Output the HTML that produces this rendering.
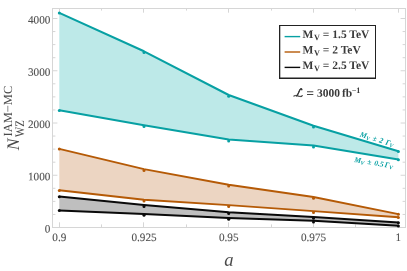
<!DOCTYPE html>
<html><head><meta charset="utf-8"><title>plot</title>
<style>
html,body{margin:0;padding:0;background:#fff;}
body{width:407px;height:271px;overflow:hidden;font-family:"Liberation Serif",serif;}
svg{will-change:transform;display:block;position:absolute;left:0;top:0;}
text{text-rendering:geometricPrecision;font-family:"Liberation Serif",serif;}
.tk{font-size:11.2px;fill:#505050;stroke:#505050;stroke-width:0.1px;}
.lg{font-size:11.5px;font-weight:bold;fill:#3a3a3a;}
.an{font-size:7.6px;font-weight:bold;font-style:italic;fill:#07a0a3;}
</style></head><body>
<svg width="407" height="271" viewBox="0 0 407 271">
<rect x="0" y="0" width="407" height="271" fill="#fff"/>
<rect x="52.5" y="8.5" width="353.0" height="219.0" fill="none" stroke="#d6d6d6" stroke-width="1"/>
<line x1="52.5" x2="57.4" y1="227.50" y2="227.50" stroke="#d6d6d6" stroke-width="1"/>
<line x1="405.5" x2="400.6" y1="227.50" y2="227.50" stroke="#d6d6d6" stroke-width="1"/>
<line x1="52.5" x2="55.4" y1="214.44" y2="214.44" stroke="#d6d6d6" stroke-width="1"/>
<line x1="405.5" x2="402.6" y1="214.44" y2="214.44" stroke="#d6d6d6" stroke-width="1"/>
<line x1="52.5" x2="55.4" y1="201.38" y2="201.38" stroke="#d6d6d6" stroke-width="1"/>
<line x1="405.5" x2="402.6" y1="201.38" y2="201.38" stroke="#d6d6d6" stroke-width="1"/>
<line x1="52.5" x2="55.4" y1="188.31" y2="188.31" stroke="#d6d6d6" stroke-width="1"/>
<line x1="405.5" x2="402.6" y1="188.31" y2="188.31" stroke="#d6d6d6" stroke-width="1"/>
<line x1="52.5" x2="57.4" y1="175.25" y2="175.25" stroke="#d6d6d6" stroke-width="1"/>
<line x1="405.5" x2="400.6" y1="175.25" y2="175.25" stroke="#d6d6d6" stroke-width="1"/>
<line x1="52.5" x2="55.4" y1="162.19" y2="162.19" stroke="#d6d6d6" stroke-width="1"/>
<line x1="405.5" x2="402.6" y1="162.19" y2="162.19" stroke="#d6d6d6" stroke-width="1"/>
<line x1="52.5" x2="55.4" y1="149.12" y2="149.12" stroke="#d6d6d6" stroke-width="1"/>
<line x1="405.5" x2="402.6" y1="149.12" y2="149.12" stroke="#d6d6d6" stroke-width="1"/>
<line x1="52.5" x2="55.4" y1="136.06" y2="136.06" stroke="#d6d6d6" stroke-width="1"/>
<line x1="405.5" x2="402.6" y1="136.06" y2="136.06" stroke="#d6d6d6" stroke-width="1"/>
<line x1="52.5" x2="57.4" y1="123.00" y2="123.00" stroke="#d6d6d6" stroke-width="1"/>
<line x1="405.5" x2="400.6" y1="123.00" y2="123.00" stroke="#d6d6d6" stroke-width="1"/>
<line x1="52.5" x2="55.4" y1="109.94" y2="109.94" stroke="#d6d6d6" stroke-width="1"/>
<line x1="405.5" x2="402.6" y1="109.94" y2="109.94" stroke="#d6d6d6" stroke-width="1"/>
<line x1="52.5" x2="55.4" y1="96.88" y2="96.88" stroke="#d6d6d6" stroke-width="1"/>
<line x1="405.5" x2="402.6" y1="96.88" y2="96.88" stroke="#d6d6d6" stroke-width="1"/>
<line x1="52.5" x2="55.4" y1="83.81" y2="83.81" stroke="#d6d6d6" stroke-width="1"/>
<line x1="405.5" x2="402.6" y1="83.81" y2="83.81" stroke="#d6d6d6" stroke-width="1"/>
<line x1="52.5" x2="57.4" y1="70.75" y2="70.75" stroke="#d6d6d6" stroke-width="1"/>
<line x1="405.5" x2="400.6" y1="70.75" y2="70.75" stroke="#d6d6d6" stroke-width="1"/>
<line x1="52.5" x2="55.4" y1="57.69" y2="57.69" stroke="#d6d6d6" stroke-width="1"/>
<line x1="405.5" x2="402.6" y1="57.69" y2="57.69" stroke="#d6d6d6" stroke-width="1"/>
<line x1="52.5" x2="55.4" y1="44.62" y2="44.62" stroke="#d6d6d6" stroke-width="1"/>
<line x1="405.5" x2="402.6" y1="44.62" y2="44.62" stroke="#d6d6d6" stroke-width="1"/>
<line x1="52.5" x2="55.4" y1="31.56" y2="31.56" stroke="#d6d6d6" stroke-width="1"/>
<line x1="405.5" x2="402.6" y1="31.56" y2="31.56" stroke="#d6d6d6" stroke-width="1"/>
<line x1="52.5" x2="57.4" y1="18.50" y2="18.50" stroke="#d6d6d6" stroke-width="1"/>
<line x1="405.5" x2="400.6" y1="18.50" y2="18.50" stroke="#d6d6d6" stroke-width="1"/>
<line x1="59.50" x2="59.50" y1="227.5" y2="222.3" stroke="#d6d6d6" stroke-width="1"/>
<line x1="59.50" x2="59.50" y1="8.5" y2="12.7" stroke="#d6d6d6" stroke-width="1"/>
<line x1="101.50" x2="101.50" y1="227.5" y2="224.4" stroke="#d6d6d6" stroke-width="1"/>
<line x1="101.50" x2="101.50" y1="8.5" y2="10.6" stroke="#d6d6d6" stroke-width="1"/>
<line x1="143.50" x2="143.50" y1="227.5" y2="222.3" stroke="#d6d6d6" stroke-width="1"/>
<line x1="143.50" x2="143.50" y1="8.5" y2="12.7" stroke="#d6d6d6" stroke-width="1"/>
<line x1="186.50" x2="186.50" y1="227.5" y2="224.4" stroke="#d6d6d6" stroke-width="1"/>
<line x1="186.50" x2="186.50" y1="8.5" y2="10.6" stroke="#d6d6d6" stroke-width="1"/>
<line x1="228.50" x2="228.50" y1="227.5" y2="222.3" stroke="#d6d6d6" stroke-width="1"/>
<line x1="228.50" x2="228.50" y1="8.5" y2="12.7" stroke="#d6d6d6" stroke-width="1"/>
<line x1="271.50" x2="271.50" y1="227.5" y2="224.4" stroke="#d6d6d6" stroke-width="1"/>
<line x1="271.50" x2="271.50" y1="8.5" y2="10.6" stroke="#d6d6d6" stroke-width="1"/>
<line x1="313.50" x2="313.50" y1="227.5" y2="222.3" stroke="#d6d6d6" stroke-width="1"/>
<line x1="313.50" x2="313.50" y1="8.5" y2="12.7" stroke="#d6d6d6" stroke-width="1"/>
<line x1="355.50" x2="355.50" y1="227.5" y2="224.4" stroke="#d6d6d6" stroke-width="1"/>
<line x1="355.50" x2="355.50" y1="8.5" y2="10.6" stroke="#d6d6d6" stroke-width="1"/>
<line x1="398.50" x2="398.50" y1="227.5" y2="222.3" stroke="#d6d6d6" stroke-width="1"/>
<line x1="398.50" x2="398.50" y1="8.5" y2="12.7" stroke="#d6d6d6" stroke-width="1"/>
<polygon points="59.3,12.9 144.0,51.3 228.7,95.0 313.5,125.7 398.4,151.3 398.4,159.5 313.5,145.6 228.7,139.6 144.0,125.3 59.3,110.3" fill="#bde9e8"/>
<polygon points="59.3,148.8 144.0,169.1 228.7,184.7 313.5,197.0 398.4,214.1 398.4,217.3 313.5,211.1 228.7,205.1 144.0,199.8 59.3,190.3" fill="#ecd5c2"/>
<polygon points="59.3,196.6 144.0,205.1 228.7,212.2 313.5,217.0 398.4,222.6 398.4,225.8 313.5,220.7 228.7,218.0 144.0,213.9 59.3,210.4" fill="#bfbfbf"/>
<polyline points="59.3,12.9 144.0,51.3 228.7,95.0 313.5,125.7 398.4,151.3" fill="none" stroke="#07a0a3" stroke-width="2.05" stroke-linejoin="round" stroke-linecap="butt"/>
<circle cx="59.3" cy="13.10" r="1.5" fill="#07a0a3"/>
<circle cx="144.0" cy="52.60" r="1.5" fill="#07a0a3"/>
<circle cx="228.7" cy="96.30" r="1.5" fill="#07a0a3"/>
<circle cx="313.5" cy="127.00" r="1.5" fill="#07a0a3"/>
<circle cx="398.4" cy="151.50" r="1.5" fill="#07a0a3"/>
<polyline points="59.3,110.3 144.0,125.3 228.7,139.6 313.5,145.6 398.4,159.5" fill="none" stroke="#07a0a3" stroke-width="2.05" stroke-linejoin="round" stroke-linecap="butt"/>
<circle cx="59.3" cy="110.50" r="1.5" fill="#07a0a3"/>
<circle cx="144.0" cy="126.60" r="1.5" fill="#07a0a3"/>
<circle cx="228.7" cy="140.90" r="1.5" fill="#07a0a3"/>
<circle cx="313.5" cy="146.90" r="1.5" fill="#07a0a3"/>
<circle cx="398.4" cy="159.70" r="1.5" fill="#07a0a3"/>
<polyline points="59.3,148.8 144.0,169.1 228.7,184.7 313.5,197.0 398.4,214.1" fill="none" stroke="#b55a06" stroke-width="1.9" stroke-linejoin="round" stroke-linecap="butt"/>
<circle cx="59.3" cy="149.00" r="1.5" fill="#b55a06"/>
<circle cx="144.0" cy="170.40" r="1.5" fill="#b55a06"/>
<circle cx="228.7" cy="186.00" r="1.5" fill="#b55a06"/>
<circle cx="313.5" cy="198.30" r="1.5" fill="#b55a06"/>
<circle cx="398.4" cy="214.30" r="1.5" fill="#b55a06"/>
<polyline points="59.3,190.3 144.0,199.8 228.7,205.1 313.5,211.1 398.4,217.3" fill="none" stroke="#b55a06" stroke-width="1.9" stroke-linejoin="round" stroke-linecap="butt"/>
<circle cx="59.3" cy="190.50" r="1.5" fill="#b55a06"/>
<circle cx="144.0" cy="201.10" r="1.5" fill="#b55a06"/>
<circle cx="228.7" cy="206.40" r="1.5" fill="#b55a06"/>
<circle cx="313.5" cy="212.40" r="1.5" fill="#b55a06"/>
<circle cx="398.4" cy="217.50" r="1.5" fill="#b55a06"/>
<polyline points="59.3,196.6 144.0,205.1 228.7,212.2 313.5,217.0 398.4,222.6" fill="none" stroke="#0a0a0a" stroke-width="2.05" stroke-linejoin="round" stroke-linecap="butt"/>
<circle cx="59.3" cy="196.80" r="1.5" fill="#0a0a0a"/>
<circle cx="144.0" cy="206.40" r="1.5" fill="#0a0a0a"/>
<circle cx="228.7" cy="213.50" r="1.5" fill="#0a0a0a"/>
<circle cx="313.5" cy="218.30" r="1.5" fill="#0a0a0a"/>
<circle cx="398.4" cy="222.80" r="1.5" fill="#0a0a0a"/>
<polyline points="59.3,210.4 144.0,213.9 228.7,218.0 313.5,220.7 398.4,225.8" fill="none" stroke="#0a0a0a" stroke-width="2.05" stroke-linejoin="round" stroke-linecap="butt"/>
<circle cx="59.3" cy="210.60" r="1.5" fill="#0a0a0a"/>
<circle cx="144.0" cy="215.20" r="1.5" fill="#0a0a0a"/>
<circle cx="228.7" cy="219.30" r="1.5" fill="#0a0a0a"/>
<circle cx="313.5" cy="222.00" r="1.5" fill="#0a0a0a"/>
<circle cx="398.4" cy="226.00" r="1.5" fill="#0a0a0a"/>
<text class="tk" transform="rotate(0.03 50 232.40)" x="50.4" y="232.40" text-anchor="end">0</text>
<text class="tk" transform="rotate(0.03 50 180.15)" x="50.4" y="180.15" text-anchor="end">1000</text>
<text class="tk" transform="rotate(0.03 50 127.90)" x="50.4" y="127.90" text-anchor="end">2000</text>
<text class="tk" transform="rotate(0.03 50 75.65)" x="50.4" y="75.65" text-anchor="end">3000</text>
<text class="tk" transform="rotate(0.03 50 23.40)" x="50.4" y="23.40" text-anchor="end">4000</text>
<text class="tk" transform="rotate(0.03 59.3 240.9)" x="59.3" y="240.9" text-anchor="middle">0.9</text>
<text class="tk" transform="rotate(0.03 144.0 240.9)" x="144.0" y="240.9" text-anchor="middle">0.925</text>
<text class="tk" transform="rotate(0.03 228.7 240.9)" x="228.7" y="240.9" text-anchor="middle">0.95</text>
<text class="tk" transform="rotate(0.03 313.5 240.9)" x="313.5" y="240.9" text-anchor="middle">0.975</text>
<text class="tk" transform="rotate(0.03 398.4 240.9)" x="398.4" y="240.9" text-anchor="middle">1</text>
<text transform="rotate(0.03 228.9 265.8)" x="228.9" y="265.8" text-anchor="middle" font-size="18.6" font-style="italic" fill="#4a4a4a">a</text>
<g transform="translate(18.8,150.3) rotate(-90)" fill="#4a4a4a"><text x="0" y="0" font-size="17.6" font-style="italic">N</text><text x="13.9" y="-6.9" font-size="12.4" textLength="50.6" lengthAdjust="spacingAndGlyphs">IAM−MC</text><text x="13.3" y="5.6" font-size="13" textLength="16.8" lengthAdjust="spacingAndGlyphs">WZ</text></g>
<rect x="279" y="25" width="97" height="54" fill="#fff"/>
<path d="M279,25H376V79H279Z M280.3,26.1V77.6H375V26.1Z" fill="#222" fill-rule="evenodd"/>
<line x1="284.6" x2="300.2" y1="36.60" y2="36.60" stroke="#07a0a3" stroke-width="1.4"/>
<text class="lg" transform="rotate(0.03 302.5 38.05)" x="302.5" y="38.05">M<tspan font-size="8.2" dy="2" dx="0.7">V</tspan><tspan dy="-2"> = 1.5 TeV</tspan></text>
<line x1="284.6" x2="300.2" y1="52.00" y2="52.00" stroke="#b55a06" stroke-width="1.4"/>
<text class="lg" transform="rotate(0.03 302.5 53.47)" x="302.5" y="53.47">M<tspan font-size="8.2" dy="2" dx="0.7">V</tspan><tspan dy="-2"> = 2 TeV</tspan></text>
<line x1="284.6" x2="300.2" y1="67.40" y2="67.40" stroke="#0a0a0a" stroke-width="1.4"/>
<text class="lg" transform="rotate(0.03 302.5 68.89)" x="302.5" y="68.89">M<tspan font-size="8.2" dy="2" dx="0.7">V</tspan><tspan dy="-2"> = 2.5 TeV</tspan></text>
<g fill="none" stroke="#3a3a3a" stroke-linecap="round" stroke-linejoin="round"><path d="M301.6,89.6 C301.7,89.0 301.3,88.7 300.8,88.9 C299.8,89.4 299.2,91.0 298.6,92.6 C298.1,94.0 297.6,95.1 296.5,95.9" stroke-width="1.15"/><path d="M293.9,96.0 C295.0,95.6 296.0,95.6 297.2,95.9 C298.8,96.4 300.6,96.8 301.9,96.5 L302.1,95.7" stroke-width="0.85"/></g>
<rect x="279" y="25" width="97" height="54" fill="#fff"/>
<path d="M279,25H376V79H279Z M280.3,26.1V77.6H375V26.1Z" fill="#222" fill-rule="evenodd"/>
<line x1="284.6" x2="300.2" y1="36.60" y2="36.60" stroke="#07a0a3" stroke-width="1.4"/>
<text class="lg" transform="rotate(0.03 302.5 38.05)" x="302.5" y="38.05">M<tspan font-size="8.2" dy="2" dx="0.7">V</tspan><tspan dy="-2"> = 1.5 TeV</tspan></text>
<line x1="284.6" x2="300.2" y1="52.00" y2="52.00" stroke="#b55a06" stroke-width="1.4"/>
<text class="lg" transform="rotate(0.03 302.5 53.47)" x="302.5" y="53.47">M<tspan font-size="8.2" dy="2" dx="0.7">V</tspan><tspan dy="-2"> = 2 TeV</tspan></text>
<line x1="284.6" x2="300.2" y1="67.40" y2="67.40" stroke="#0a0a0a" stroke-width="1.4"/>
<text class="lg" transform="rotate(0.03 302.5 68.89)" x="302.5" y="68.89">M<tspan font-size="8.2" dy="2" dx="0.7">V</tspan><tspan dy="-2"> = 2.5 TeV</tspan></text>
<g fill="none" stroke="#3a3a3a" stroke-linecap="round" stroke-linejoin="round"><path d="M301.9,89.8 C302.0,88.9 301.4,88.5 300.8,88.8 C299.8,89.3 299.2,91.0 298.6,92.6 C298.1,94.0 297.6,95.0 296.5,95.7" stroke-width="1.15"/><path d="M293.9,95.9 C295.0,95.3 296.0,95.3 297.2,95.7 C298.8,96.3 300.6,96.6 301.9,96.3 L302.2,95.4" stroke-width="0.75"/></g>
<path d="M307,91.15H313.3V92.25H307Z M307,93.95H313.3V95.05H307Z" fill="#454545"/>
<text class="lg" transform="rotate(0.03 317 96.8)" x="316.9" y="96.8">3000 <tspan dx="-0.9">fb</tspan><tspan font-size="8.2" dy="-3.9" dx="-0.4">−1</tspan></text>
<g transform="translate(359.4,136.4) rotate(16.8)"><text class="an" x="0" y="0" word-spacing="0.9">M<tspan font-size="5.6" dy="1.4">V</tspan><tspan dy="-1.4"> ± 2 Γ</tspan><tspan font-size="5.6" dy="1.4">V</tspan></text></g>
<g transform="translate(353.9,161.95) rotate(9.3)"><text class="an" x="0" y="0" word-spacing="0.9">M<tspan font-size="5.6" dy="1.4">V</tspan><tspan dy="-1.4"> ± 0.5</tspan><tspan dx="-1.7"> Γ</tspan><tspan font-size="5.6" dy="1.4">V</tspan></text></g>
</svg></body></html>
